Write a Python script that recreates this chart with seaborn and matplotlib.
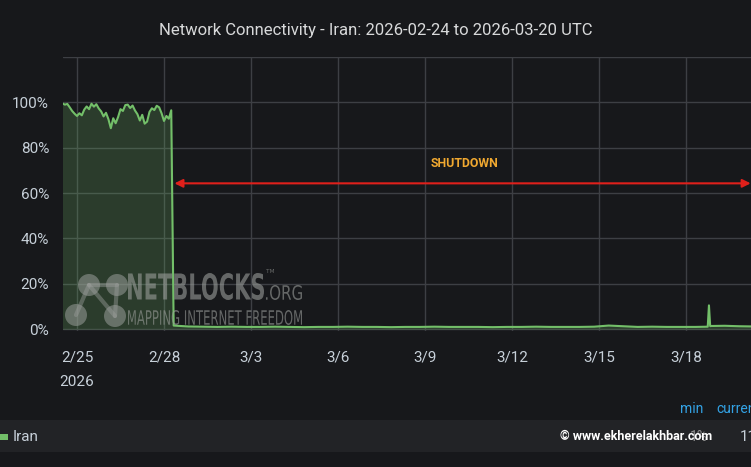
import matplotlib.pyplot as plt
import matplotlib.patches as mpatches
from matplotlib.textpath import TextPath
from matplotlib.font_manager import FontProperties
from matplotlib.transforms import Affine2D, IdentityTransform
import pandas as pd
import seaborn as sns

# pre-shutdown connectivity (%), every 2 hours from 2026-02-24 12:00
pre_vals = [99.5, 99.0, 99.3, 97.8, 96.2, 95.0, 94.0, 95.2, 94.3, 96.8,
            98.2, 97.0, 99.4, 98.1, 99.2, 97.3, 96.0, 93.8, 95.4, 92.6,
            88.6, 93.0, 90.8, 93.5, 97.0, 96.2, 98.8, 99.0, 97.5, 98.6,
            96.4, 94.8, 92.0, 94.5, 90.6, 91.5, 95.8, 97.4, 96.6, 98.5,
            97.8, 95.2, 91.8, 94.0, 92.8, 96.5]
# post-shutdown connectivity (%), every 12 hours from 2026-02-28 08:00
post_vals = [1.6, 1.2, 1.1, 1.0, 1.1, 1.0, 1.0, 1.1, 1.0, 0.9, 1.0, 1.0,
             1.1, 1.0, 1.0, 0.9, 1.0, 1.0, 1.1, 1.0, 1.0, 1.0, 0.9, 1.0,
             1.0, 1.1, 1.0, 1.0, 1.0, 1.1, 1.6, 1.3, 1.0, 1.1, 1.0, 1.0,
             1.0, 1.0, 1.5, 1.3, 1.2]
# short spike on 2026-03-18
spike_times = ['2026-03-18 18:00', '2026-03-18 19:00', '2026-03-18 20:00']
spike_vals = [1.1, 10.5, 1.8]

tick_dates = ['2026-02-25', '2026-02-28', '2026-03-03', '2026-03-06',
              '2026-03-09', '2026-03-12', '2026-03-15', '2026-03-18']
tick_labels = ['2/25\n2026', '2/28', '3/3', '3/6', '3/9', '3/12', '3/15', '3/18']

pre = pd.DataFrame({'time': pd.date_range('2026-02-24 12:00', periods=len(pre_vals), freq='2h'),
                    'value': pre_vals})
post = pd.DataFrame({'time': pd.date_range('2026-02-28 08:00', periods=len(post_vals), freq='12h'),
                     'value': post_vals})
spike = pd.DataFrame({'time': pd.to_datetime(spike_times), 'value': spike_vals})
df = pd.concat([pre, post, spike]).sort_values('time').reset_index(drop=True)
df['value'] = df['value'] / 100

bg = '#17181b'
green = '#73bf69'
text_c = '#c7d0d9'

sns.set_theme(style='dark', rc={
    'figure.facecolor': bg, 'axes.facecolor': bg, 'savefig.facecolor': bg,
    'axes.edgecolor': bg, 'grid.color': '#3a3c40', 'text.color': text_c,
    'xtick.color': text_c, 'ytick.color': text_c,
})
plt.rcParams['font.family'] = ['Roboto', 'DejaVu Sans']

fig = plt.figure(figsize=(7.51, 4.67), dpi=100)
W, H = 751, 467
ax = fig.add_axes([63 / W, 1 - 331 / H, 1 - 63 / W, (331 - 57) / H])

sns.lineplot(data=df, x='time', y='value', ax=ax, color=green, lw=1.5)
ax.fill_between(df['time'], df['value'], 0, color=green, alpha=0.22, lw=0)

ax.set_xlim(pd.Timestamp('2026-02-24 12:25'), pd.Timestamp('2026-03-20 05:48'))
ax.set_ylim(-0.008, 1.2)
ax.set_yticks([0, 0.2, 0.4, 0.6, 0.8, 1.0, 1.2])
ax.set_yticklabels(['0%', '20%', '40%', '60%', '80%', '100%', ''])
ax.set_xticks(pd.to_datetime(tick_dates))
ax.set_xticklabels(tick_labels, linespacing=2.0, va='top')
ax.tick_params(axis='y', labelsize=11, pad=10, length=0)
ax.tick_params(axis='x', labelsize=11, pad=14, length=0)
ax.grid(True, color='#3d3f44', lw=1)
ax.set_xlabel('')
ax.set_ylabel('')
for s in ax.spines.values():
    s.set_visible(False)

# shutdown annotation
ax.annotate('', xy=(pd.Timestamp('2026-02-28 08:40'), 0.643),
            xytext=(pd.Timestamp('2026-03-20 05:30'), 0.643),
            arrowprops=dict(arrowstyle='<|-|>', color='#e0201b', lw=1.5,
                            mutation_scale=12, shrinkA=0, shrinkB=0))
ax.text(pd.Timestamp('2026-03-10 09:00'), 0.73, 'SHUTDOWN', color='#f0a830',
        fontsize=8.8, fontweight='bold', ha='center', va='center')

fig.text(376 / W, 1 - 30 / H, 'Network Connectivity - Iran: 2026-02-24 to 2026-03-20 UTC',
         ha='center', va='center', fontsize=12, color='#d8d9da')


def boxed_text(s, x0, x1, ytop, ybot, weight='normal', alpha=0.6):
    # draw text squeezed into a pixel box (condensed logo lettering)
    tp = TextPath((0, 0), s, size=20, prop=FontProperties(family='DejaVu Sans', weight=weight))
    ext = tp.get_extents()
    sx = (x1 - x0) / ext.width
    sy = (ybot - ytop) / ext.height
    tr = Affine2D().translate(-ext.x0, -ext.y0).scale(sx, sy).translate(x0, H - ybot)
    fig.add_artist(mpatches.PathPatch(tp, transform=tr + IdentityTransform(),
                                      color=logo_c, alpha=alpha, lw=0))


# NetBlocks watermark
logo_c = '#9a9d9a'
nodes = [(89, 285), (117, 285), (76, 315), (115, 316)]
for a, b in [(0, 1), (0, 2), (0, 3), (1, 3)]:
    fig.add_artist(plt.Line2D([nodes[a][0] / W, nodes[b][0] / W],
                              [1 - nodes[a][1] / H, 1 - nodes[b][1] / H],
                              color=logo_c, lw=3, alpha=0.45))
for (x, y) in nodes:
    fig.add_artist(mpatches.Ellipse((x / W, 1 - y / H), 22 / W, 22 / H,
                                    color=logo_c, alpha=0.55, lw=0))
boxed_text('NETBLOCKS', 128, 264, 273, 300, weight='bold')
boxed_text('.ORG', 266, 302, 285, 300)
boxed_text('TM', 266, 274, 269, 273)
boxed_text('MAPPING INTERNET FREEDOM', 128, 302, 310, 325)

# legend band
fig.add_artist(mpatches.Rectangle((0, 1 - 452 / H), 1, 32 / H, color='#222326', lw=0))
fig.add_artist(mpatches.Rectangle((0, 1 - 440 / H), 8 / W, 6 / H, color=green, lw=0))
fig.text(13 / W, 1 - 437 / H, 'Iran', fontsize=11, color=text_c, va='center')
fig.text(680 / W, 1 - 409 / H, 'min', fontsize=10, color='#33a2e5', va='center')
fig.text(716 / W, 1 - 409 / H, 'current', fontsize=10, color='#33a2e5', va='center')
fig.text(690 / W, 1 - 437 / H, '1%', fontsize=10, color='#8e8e8e', va='center')
fig.text(740 / W, 1 - 437 / H, '11', fontsize=11, color=text_c, va='center')
fig.text(560 / W, 1 - 437 / H, '© www.ekherelakhbar.com', fontsize=9,
         fontweight='bold', color='white', va='center')

fig.savefig('out.png', dpi=100)
